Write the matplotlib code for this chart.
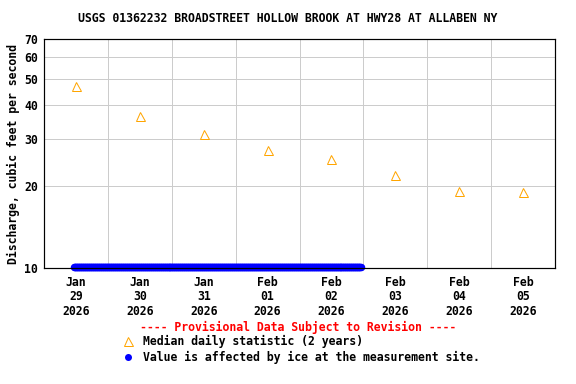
import matplotlib
matplotlib.use("Agg")
import matplotlib.pyplot as plt
import numpy as np

title = "USGS 01362232 BROADSTREET HOLLOW BROOK AT HWY28 AT ALLABEN NY"
tick_labels = ["Jan\n29\n2026", "Jan\n30\n2026", "Jan\n31\n2026", "Feb\n01\n2026",
               "Feb\n02\n2026", "Feb\n03\n2026", "Feb\n04\n2026", "Feb\n05\n2026"]
median_days = [0.5, 1.5, 2.5, 3.5, 4.5, 5.5, 6.5, 7.5]
median_vals = [47, 36.5, 31.2, 27.2, 25.3, 22.0, 19.2, 19.1]
ice_start, ice_end, ice_step = 0.47, 4.97, 1 / 96
ice_value = 10.1
yticks = [10, 20, 30, 40, 50, 60, 70]

font = "DejaVu Sans Mono"
plt.rcParams['font.family'] = font
plt.rcParams['font.weight'] = 'bold'

fig = plt.figure(figsize=(8, 384 / 72), dpi=72)
ax = fig.add_axes([44 / 576, 1 - 268 / 384, (555 - 44) / 576, (268 - 39) / 384])

ice_x = np.arange(ice_start, ice_end, ice_step)
ax.plot(ice_x, np.full_like(ice_x, ice_value), 'o', color='#0000ff', ms=7.5, mec='none',
        clip_on=False, zorder=5)
ax.plot(median_days, median_vals, '^', mfc='none', mec='#ffa500', ms=9, mew=1, zorder=4)

ax.set_yscale('log')
ax.set_ylim(10, 70)
ax.set_xlim(0, 8)
ax.set_yticks(yticks)
ax.set_yticklabels([str(v) for v in yticks], fontsize=11.5, fontweight='bold')
ax.yaxis.set_minor_locator(matplotlib.ticker.NullLocator())
ax.set_xticks(median_days)
ax.set_xticklabels(tick_labels, fontsize=11.5, fontweight='bold', linespacing=1.15)
ax.set_xticks(np.arange(1, 8), minor=True)
ax.tick_params(axis='both', which='both', length=0)
ax.tick_params(axis='x', pad=8)
ax.tick_params(axis='y', pad=6)
ax.grid(True, which='minor', axis='x', color='#cccccc', lw=1)
ax.grid(True, which='major', axis='y', color='#cccccc', lw=1)
ax.grid(False, which='major', axis='x')
for s in ax.spines.values():
    s.set_linewidth(1.2)
ax.spines['bottom'].set_zorder(6)

ax.set_ylabel("Discharge, cubic feet per second", fontsize=11.5, fontweight='bold', labelpad=4)
fig.text(288 / 576, 1 - 19 / 384, title, ha='center', va='center', fontsize=11.5,
         fontweight='bold')

fig.text(298 / 576, 1 - 327 / 384, "---- Provisional Data Subject to Revision ----",
         ha='center', va='center', color='#ff0000', fontsize=11.5, fontweight='bold')
fig.lines.append(matplotlib.lines.Line2D([128 / 576], [1 - 341 / 384], marker='^', ms=9,
                 mfc='none', mec='#ffa500', mew=1, transform=fig.transFigure))
fig.text(143 / 576, 1 - 341 / 384, "Median daily statistic (2 years)", ha='left', va='center',
         fontsize=11.5, fontweight='bold')
fig.lines.append(matplotlib.lines.Line2D([128 / 576], [1 - 357 / 384], marker='o', ms=7,
                 mfc='#0000ff', mec='none', transform=fig.transFigure))
fig.text(143 / 576, 1 - 357 / 384, "Value is affected by ice at the measurement site.",
         ha='left', va='center', fontsize=11.5, fontweight='bold')

fig.savefig("out.png", dpi=72)
